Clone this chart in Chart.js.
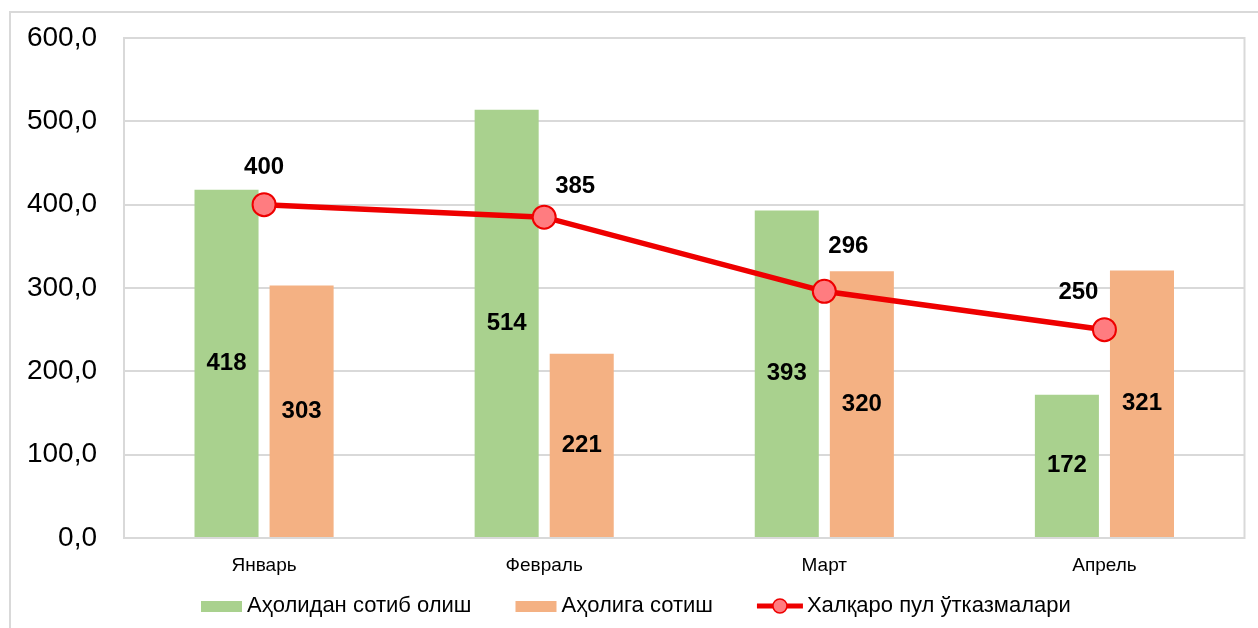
<!DOCTYPE html>
<html>
<head>
<meta charset="utf-8">
<script src="https://cdn.jsdelivr.net/npm/chart.js@4"></script>
<style>
    html, body { margin: 0; padding: 0; background: #fff; }
    #wrap { position: relative; width: 1258px; height: 628px; overflow: hidden; }
    #frame { position: absolute; left: 9px; top: 11px; width: 1300px; height: 700px; border: 2px solid #d9d9d9; box-sizing: border-box; }
    canvas { position: absolute; left: 0; top: 0; }
</style>
</head>
<body>
<div id="wrap">
    <div id="frame"></div>
    <canvas id="chart" width="1258" height="628"></canvas>
</div>
<script>
// Oylar va qiymatlar
const months = ['Январь', 'Февраль', 'Март', 'Апрель'];
const buyFromPeople = [418, 514, 393, 172];
const sellToPeople = [303, 221, 320, 321];
const transfers = [400, 385, 296, 250];
const yTicks = [0, 100, 200, 300, 400, 500, 600];

const seriesNames = ['Аҳолидан сотиб олиш', 'Аҳолига сотиш', 'Халқаро пул ўтказмалари'];

// Chiziq yorliqlari uchun siljish (px)
const lineLabelShift = [[0, -37], [31, -31], [24, -45], [-26, -37]];

const FONT = '"Liberation Sans", Arial, sans-serif';

// Ma'lumot yorliqlari
const valueLabels = {
    id: 'valueLabels',
    afterDatasetsDraw(chart) {
        const ctx = chart.ctx;
        ctx.save();
        ctx.font = 'bold 24px ' + FONT;
        ctx.fillStyle = '#000';
        ctx.textAlign = 'center';
        ctx.textBaseline = 'middle';
        chart.data.datasets.forEach((ds, i) => {
            const meta = chart.getDatasetMeta(i);
            meta.data.forEach((el, j) => {
                const v = ds.data[j];
                if (ds.type === 'line') {
                    const s = lineLabelShift[j];
                    ctx.fillText(v, el.x + s[0], el.y + s[1]);
                } else {
                    ctx.fillText(v, el.x, (el.y + el.base) / 2);
                }
            });
        });
        ctx.restore();
    }
};

// Grafik maydoni chegarasi
const plotBorder = {
    id: 'plotBorder',
    beforeDatasetsDraw(chart) {
        const a = chart.chartArea;
        const ctx = chart.ctx;
        ctx.save();
        ctx.strokeStyle = '#d9d9d9';
        ctx.lineWidth = 2;
        ctx.strokeRect(a.left, a.top, a.right - a.left, a.bottom - a.top);
        ctx.restore();
    }
};

// Pastki legenda
const bottomLegend = {
    id: 'bottomLegend',
    afterDraw(chart) {
        const ctx = chart.ctx;
        const y = 606;
        let x = 201;
        ctx.save();
        ctx.font = '22px ' + FONT;
        ctx.textBaseline = 'middle';
        ctx.textAlign = 'left';
        chart.data.datasets.forEach(ds => {
            if (ds.type === 'line') {
                ctx.strokeStyle = ds.borderColor;
                ctx.lineWidth = 5;
                ctx.beginPath();
                ctx.moveTo(x, y);
                ctx.lineTo(x + 46, y);
                ctx.stroke();
                ctx.beginPath();
                ctx.arc(x + 23, y, 7, 0, Math.PI * 2);
                ctx.fillStyle = ds.pointBackgroundColor;
                ctx.fill();
                ctx.lineWidth = 1.5;
                ctx.stroke();
                x += 50;
            } else {
                ctx.fillStyle = ds.backgroundColor;
                ctx.fillRect(x, y - 5, 41, 11);
                x += 46;
            }
            ctx.fillStyle = '#000';
            ctx.fillText(ds.label, x, y);
            x += ctx.measureText(ds.label).width + 44;
        });
        ctx.restore();
    }
};

new Chart(document.getElementById('chart'), {
    data: {
        labels: months,
        datasets: [
            {
                type: 'bar',
                label: seriesNames[0],
                data: buyFromPeople,
                backgroundColor: '#a9d18e',
                categoryPercentage: 0.536,
                barPercentage: 0.853,
                order: 1
            },
            {
                type: 'bar',
                label: seriesNames[1],
                data: sellToPeople,
                backgroundColor: '#f4b183',
                categoryPercentage: 0.536,
                barPercentage: 0.853,
                order: 1
            },
            {
                type: 'line',
                label: seriesNames[2],
                data: transfers,
                borderColor: '#ee0000',
                borderWidth: 5.5,
                pointRadius: 11.5,
                pointHoverRadius: 11.5,
                pointBackgroundColor: '#ff7c80',
                pointBorderColor: '#ee0000',
                pointBorderWidth: 2,
                tension: 0,
                order: 0
            }
        ]
    },
    options: {
        responsive: false,
        animation: false,
        layout: { padding: { top: 38, right: 13, left: 0, bottom: 0 } },
        plugins: {
            legend: { display: false },
            tooltip: { enabled: false }
        },
        scales: {
            x: {
                grid: { display: false, drawTicks: false },
                border: { display: false },
                ticks: { color: '#000', font: { family: FONT, size: 19 }, padding: 16 },
                afterFit: s => { s.height = 90; s.paddingLeft = 0; s.paddingRight = 0; }
            },
            y: {
                min: 0,
                max: 600,
                afterBuildTicks: s => { s.ticks = yTicks.map(v => ({ value: v })); },
                grid: { color: '#d9d9d9', lineWidth: 2, drawTicks: false },
                border: { display: false },
                ticks: {
                    color: '#000',
                    font: { family: FONT, size: 28 },
                    padding: 27,
                    callback: v => v.toFixed(1).replace('.', ',')
                },
                afterFit: s => { s.width = 124; s.paddingTop = 0; s.paddingBottom = 0; }
            }
        }
    },
    plugins: [plotBorder, valueLabels, bottomLegend]
});
</script>
</body>
</html>
